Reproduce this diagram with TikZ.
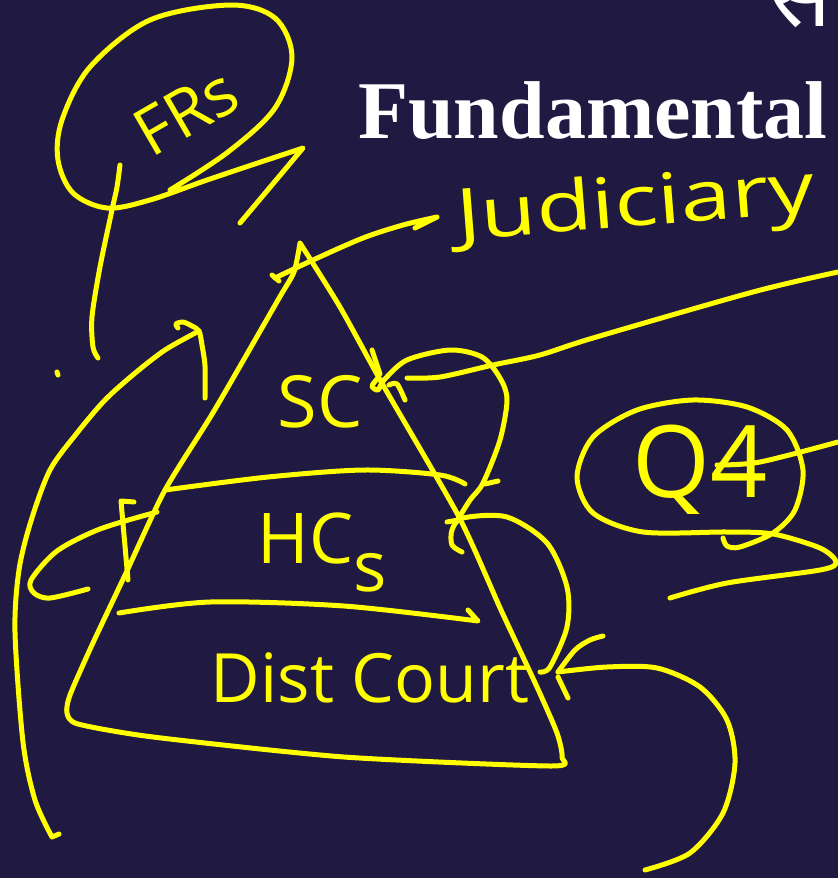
\documentclass[tikz,border=0pt]{standalone}
\usepackage{fontspec}
\newfontfamily\hand{Open Sans}
\newfontfamily\titlefont{Liberation Serif}
\newfontfamily\devfont[Script=Devanagari]{Noto Sans}
\definecolor{bgnavy}{RGB}{32,26,66}
\definecolor{penyellow}{RGB}{255,255,0}
\begin{document}
\begin{tikzpicture}[x=1pt,y=-1pt,
  ink/.style={draw=penyellow,line width=5pt,line cap=round,line join=round},
  hw/.style={text=penyellow,inner sep=0pt,font=\hand\fontsize{#1}{#1}\selectfont}]
\useasboundingbox (0,0) rectangle (838,878);
\clip (0,0) rectangle (838,878);
\fill[bgnavy] (0,0) rectangle (838,878);

% title
\node[text=white,inner sep=0pt,anchor=base west,font=\titlefont\bfseries\fontsize{82}{82}\selectfont] (title) at (358,138) {Fundamental};
\node[text=white,inner sep=0pt,anchor=base east,font=\devfont\bfseries\fontsize{92}{92}\selectfont] (dev) at (832,27) {स};

% FRs ellipse with arrow
\draw[ink] (240,223) -- plot[smooth,tension=0.55] coordinates {(303,148) (210,179) (150,200) (107,208) (73,193) (58,160) (62,120) (90,67) (150,20) (230,5) (275,18) (292,57) (275,108) (228,152) (170,190)};
\node[hw=66,rotate=30] (frs) at (186,112) {FRs};
\draw[ink] plot[smooth] coordinates {(120,165) (117,187) (112,210) (100,267) (92,317) (93,347) (98,358)};
\draw[ink] (57,372) -- (58,375);

% big left arc arrow
\draw[ink] (59,834) -- plot[smooth] coordinates {(52,837) (35,800) (23,742) (15,632) (19,570) (31,521) (50,470) (77,433) (105,400) (134,374) (165,350) (199,331)};
\draw[ink] plot[smooth] coordinates {(178,328) (176,324) (183,322) (192,326) (199,331) (202,345) (205,366) (205,398)};

% pyramid
\draw[ink] plot[smooth,tension=0.4] coordinates {(300,243) (294,272) (278,300) (214,411) (165,490) (126,573) (92,645) (70,695) (67,713) (78,724) (153,737) (344,757) (551,766) (562,757) (557,733) (537,687) (501,610) (459,517) (383,385) (340,307) (300,243)};

% judiciary arrow
\draw[ink] plot[smooth] coordinates {(275,278) (313,260) (363,238) (403,225) (437,217)} -- (415,228);
\draw[ink] (272,275) -- (279,281);
\node[hw=70,rotate=4.5,anchor=base west] (jud) at (458,240) {\scalebox{1.3}[1]{Judiciary}};

% SC and its strokes
\node[hw=72] (sc) at (320,402) {SC};
\draw[ink] plot[smooth] coordinates {(407,378) (440,377) (493,365) (540,355) (593,338) (753,292) (838,272)};
\draw[ink] plot[smooth] coordinates {(378,378) (372,386) (378,390) (384,380) (407,360) (450,350) (482,357) (500,378) (507,400) (500,440) (483,483) (470,500) (457,521)};
\draw[ink] (485,484) -- (498,481);
\draw[ink] plot[smooth] coordinates {(389,385) (397,384) (405,400)};
\draw[ink] (372,350) -- (380,374);

% HCs band
\draw[ink] plot[smooth] coordinates {(165,490) (268,477) (364,470) (440,475) (465,484)};
\draw[ink] plot[smooth] coordinates {(88,589) (50,598) (34,593) (31,580) (57,551) (100,529) (157,512)};
\draw[ink] (134,502) -- (121,501) -- (128,580);
\node[hw=70,anchor=base] (hcs) at (322,563) {HC\raisebox{-28pt}{s}};
\draw[ink] plot[smooth] coordinates {(119,613) (210,602) (344,606) (478,621)} -- (468,610);

% HC loop to district court
\draw[ink] (447,522) -- (458,520);
\draw[ink] plot[smooth] coordinates {(462,552) (452,545) (452,530) (463,518) (507,517) (547,543) (567,587) (567,627) (550,667) (540,672)};

% district court
\node[hw=68,anchor=base] (dc) at (370,702) {Dist Court};

% bottom-right arrow
\draw[ink] plot[smooth] coordinates {(645,870) (690,853) (723,813) (735,763) (727,720) (700,687) (657,668) (607,667) (558,672)};
\draw[ink] plot[smooth] coordinates {(558,672) (575,650) (590,640) (603,636)};
\draw[ink] (558,677) -- (568,698);

% circled Q4
\draw[ink] plot[smooth] coordinates {(723,538) (727,546) (740,547) (773,533) (795,510) (803,470) (787,430) (747,407) (693,400) (637,410) (593,437) (577,477) (593,513) (643,532) (727,532) (773,534) (820,548) (836,562) (820,570) (727,583) (670,598)};
\node[hw=100] (q4) at (700,470) {Q4};
\draw[ink] plot[smooth] coordinates {(717,465) (760,462) (838,442)};
\end{tikzpicture}
\end{document}
